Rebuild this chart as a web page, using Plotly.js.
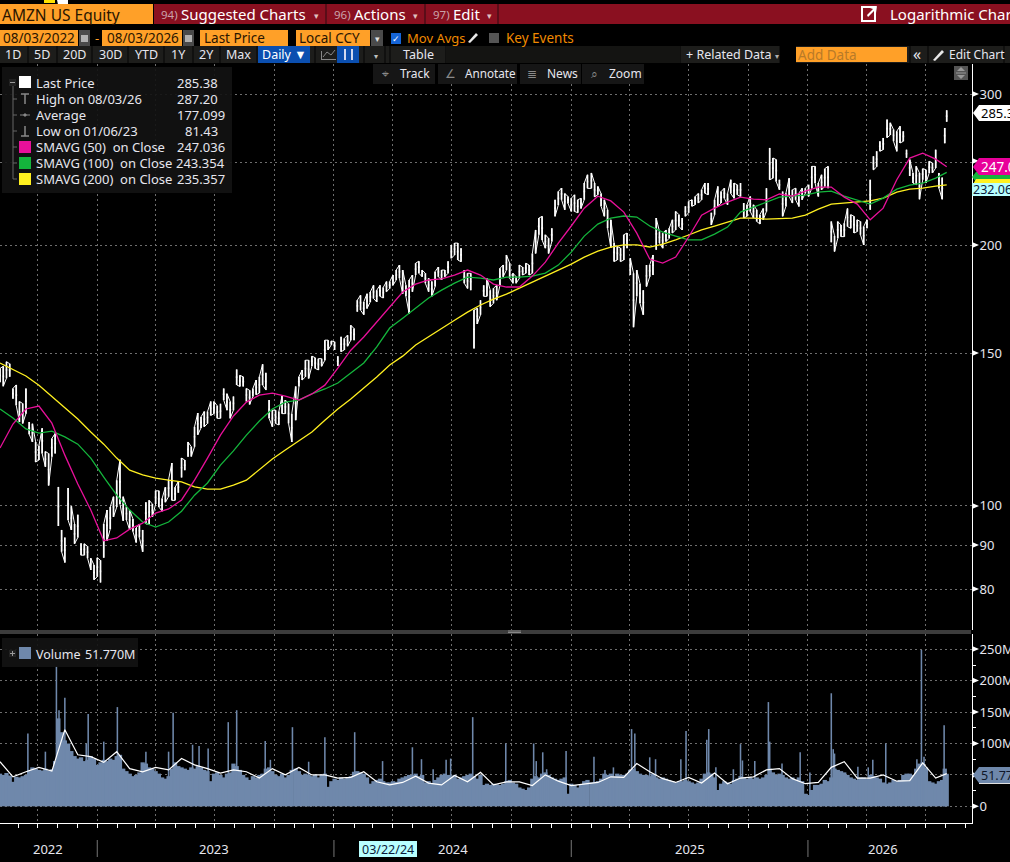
<!DOCTYPE html>
<html><head><meta charset="utf-8">
<script src="https://cdn.plot.ly/plotly-3.0.1.min.js"></script>
<style>html,body{margin:0;padding:0;background:#000;overflow:hidden}#chart{width:1010px;height:862px}</style>
</head><body><div id="chart"></div>
<script>
// ---------- data ----------
const priceHigh = [
144.2,145,146.8,146,136.7,138,132,131.3,136.7,125,
124.4,118.5,117.3,122.9,115.5,114.9,119.6,121.2,105.1,93.7,
91.8,104.8,99.8,95.2,97.6,90.4,90.3,89.7,86.9,85.3,
87,86.4,95.2,98.8,99.6,102.4,107,113,102.4,99.6,
98.8,96.5,94.2,95.2,93.7,100.9,101.4,100.4,104,104,
101.9,105,107.2,112,105,106.6,113.5,112.9,118.5,117,
123.4,128,126.7,128.5,128.5,132,132,130.5,131.2,136.7,
134.8,132,133.8,143.8,141.6,141,136.7,136,136.7,139.8,
141,145.8,142.5,132.5,129,129,128.5,134,132.5,131.2,
127.8,137.4,141,143.6,147.4,147.4,149,148.4,148,148,
155.5,155.5,155.2,154.8,149,156.9,156.2,157.6,161.8,160.4,
173,175.3,172.2,176,176.8,180,177.7,180,179,181.8,
181.8,185,187.5,190,187.5,180,182.6,185,191,192,
187.5,185.9,183.4,181.8,186.7,189,187.5,187.5,192,200.5,
201.5,201.5,198.8,187.5,185.9,185.9,168.5,169.3,173,180,
183.4,177.7,178.6,180,188.4,190,195.2,191,185.9,184.2,
190,189,191,190,196,208.7,215.4,216.4,206,204.1,
209.6,226.2,231.2,233.4,230,228.2,227.1,229.2,226.2,227.1,
236.5,241.8,243,236.5,234.4,230,226.2,220.2,214.4,201.5,
199.7,198.8,206,207,193.5,185.9,187.5,180.8,177.7,190,
190,195.2,215.4,207.8,206.9,208.7,209.6,214.4,219.3,217.4,
215.4,222.3,225.2,226.2,228.2,230,232.3,236.5,236.5,218.5,
226.2,234.4,231.2,233.3,230,238.6,236.5,235.4,236.5,224.2,
223.2,228.2,223.2,220.2,217.4,221,233.3,259.8,252.9,251.8,
238.6,231.2,230.2,239.6,232.3,233.3,230.2,233.3,233.3,235.4,
247.3,247.3,236.5,241.8,245.8,247.3,213.4,205.5,213.4,211.5,
212.5,221,217.4,216.4,214.4,213.4,210.6,214.4,238.6,254,
257.4,264.4,266.8,280.2,277.8,272.8,271.6,275.3,271.6,258.6,
251.8,243,247.3,243,245.8,245.1,250.7,249.6,258.6,243,
240,274,287.2];
const priceLow = [
139,137.5,140.5,141,133,130.7,125,124.5,127.8,121,
118.5,112.3,112.9,114.9,110.9,105.5,113.9,114.9,94.7,88.4,
85.9,96.2,93.7,90.3,91.8,87.6,87.6,86.9,84.2,82,
82.7,81.43,87,91,93.9,97,99.6,100.4,96,96.2,
93.7,93.3,90.6,91.8,88.4,95.2,95.2,97,100.4,99.6,
98.5,100.9,102.4,101.4,101.4,103.5,107.8,109.9,113.9,114,
117,120.8,123,123.4,124.5,127.2,127.8,126.2,126.2,132.5,
129,126.2,129,138,137.4,137.4,132,131,133.8,134.4,
135,138,136.1,126.2,123.4,124.5,124,127.8,127.8,124.5,
118.5,125.6,137.4,139.8,141,140.4,145.1,144.2,143.6,145,
147.4,151.5,153.6,151.5,145.1,150.8,151.5,153,155.5,155.5,
167.8,168.5,166.4,169.2,172.2,173.8,172.2,174.8,174,177,
178.5,180,182.6,183.4,176,174.8,166.8,177,185,185.9,
184.2,181,177,174.8,179.4,184.2,182.6,184.2,185.9,193.5,
195.2,192.6,191.7,181,178.5,177.7,152.1,162.4,166.4,174.8,
174.8,170,171.6,173,180,184.2,187.5,183.4,181,181,
183.4,185,185.9,185,185.9,196,206,203.2,198.8,196,
202.3,216.4,223,226.2,220.2,224,219.3,219.3,218.5,221,
226.2,233.2,233.2,228,229.2,222.3,216.4,209.6,199,191.8,
192.6,191.8,192.6,198.8,185,161,174.8,171.6,166.4,179.4,
184.2,185,197.9,201.5,198.8,202.3,204.1,207,208.7,210.6,
208.7,216.4,218.5,222.3,223.2,224.2,226.2,230.2,229.2,211.5,
217.4,222.3,224.2,227.1,223.2,230,227.1,229.2,228.2,215.4,
216.4,219.3,215.4,213.5,212,214.4,219.3,238.6,239.6,237.5,
232.3,216.4,222.2,228.2,224.2,226.2,222.2,226.2,230.2,228.2,
233.3,236.5,228.2,232.3,234.4,233.3,201.9,197,204.1,205,
205,210.6,209.6,207,207.8,206,200.5,209.6,220.2,245,
247,257.5,258.6,267,268.9,264.4,257.4,263.2,264.4,253,
241,236.5,235.4,226.5,238.6,236.5,243,243,246.2,233.3,
226.5,263,278.6];
const sma50 = [
116.6,124.3,129.4,130.4,124.6,114.4,105.9,98.8,91,91.7,
93.9,95.4,98,99.1,101.5,107,113.5,120.7,127,131.8,
134.3,135,133.9,132.5,134.7,137.9,144.3,151.4,156.8,163.2,
170.3,176.8,180.6,182.6,183.1,185,187.5,185,180.6,179.2,
179.2,184.5,191.5,201.5,210.9,221.2,228.4,225.5,218.9,206.9,
193.1,191,194.1,204.8,217.1,221.2,224.8,227.8,226.6,226.2,
229.7,228.4,231.5,234,234,227.8,223.6,214.4,221.2,238.6,
252.8,256.2,252.1,247.036];
const sma100 = [
129.4,126.3,122.7,121.3,122,120.1,117.8,113.5,107.9,102.8,
98.8,95.7,94.4,95.7,98.5,102.8,106.2,111.4,115.7,120.7,
125.3,129.4,131.8,132.5,134.7,136.5,138.7,142.4,146.3,152.7,
160.6,164.9,169.4,174,177.7,181.1,184,183.5,182.6,184,
184,184.5,186,190,196.7,205.3,212,215.4,216.6,216,
210.9,207.5,205.3,203.2,203.2,206.4,210.3,218.9,221.8,224.8,
227.8,228.4,229,230.9,231.5,228.4,226.2,223.6,227.2,232.7,
235.2,236.5,239.7,243.354];
const sma200 = [
146.3,143.9,141.3,137.9,133.9,129.7,126,121.7,117.8,113.5,
109.9,108.5,107.6,107,106.5,105.1,104.5,104.5,105.6,107,
110.2,113.2,116,118.8,121.7,125.6,129.4,132.9,136.8,140.9,
145.5,149,153.5,156.8,160.2,164,167.6,170.8,173.5,175.8,
178.7,181.6,184.5,187.5,190.5,194.1,197.2,199.4,200.5,200.5,
199.4,201,203.2,205.9,208.7,210.9,213.1,215.4,215.4,214.8,
215.1,215.4,217.1,220.6,223.6,224.2,224.8,225.5,227.2,230.9,
232.7,233.3,234.6,235.357];
const volumeM = [
52,50,53,49,39,47,46,48,50,58,
62,60,58,57,60,57,59,72,140,118,
105,100,88,80,76,78,72,74,80,76,
66,70,74,72,76,74,80,82,60,56,
52,48,50,54,70,68,62,60,56,52,
46,44,48,60,70,64,62,60,58,62,
60,64,62,58,56,40,52,54,50,46,
52,54,68,64,58,50,46,42,48,46,
50,52,60,62,56,50,48,52,46,50,
58,60,56,50,52,50,48,50,46,50,
52,31,40,44,42,46,44,46,48,55,
56,54,52,46,36,40,42,44,40,38,
38,40,39,44,46,48,50,50,52,48,
50,38,40,37,42,46,50,52,50,48,
50,44,46,48,50,52,48,44,50,34,
36,34,36,35,34,36,
40,42,38,36,30,28,26,30,44,48,
46,52,54,50,46,44,42,44,46,20,
36,34,30,34,40,42,38,38,40,44,
52,50,52,48,52,50,50,52,58,60,
56,52,50,50,48,52,46,44,46,44,
42,40,38,40,40,42,40,38,36,38,
44,52,54,52,46,26,36,40,38,36,
42,44,48,46,44,46,44,46,44,46,
50,60,54,50,52,50,46,44,46,42,
46,40,20,18,26,34,34,36,42,40,
46,60,58,56,54,50,46,44,42,46,
46,44,50,48,46,44,38,36,38,42,
40,42,50,52,52,50,60,68,70,62,
40,38,36,40,42,60,51.77];
const volumeAvgM = [
71,47,55,62,56,122,82,79,70,87,
60,55,62,58,76,66,60,53,58,55,
45,60,50,62,50,50,45,46,55,39,
34,38,48,37,34,49,39,54,34,
39,39,33,50,40,33,36,38,47,46,
68,55,44,38,46,37,53,36,45,47,
58,60,44,36,38,62,71,45,45,50,
40,41,69,45,52];
const spikeDates = [
"2022-09-16","2022-10-13","2022-10-30","2022-11-03","2022-11-12","2022-12-15","2022-12-18","2023-01-11","2023-02-01","2023-03-17",
"2023-04-21","2023-04-28","2023-05-28","2023-06-07","2023-06-21","2023-07-22","2023-08-04","2023-09-17","2023-09-25","2023-10-29",
"2023-11-23","2023-12-18","2024-02-02","2024-03-16","2024-05-01","2024-05-15","2024-06-02","2024-06-22","2024-06-29","2024-08-02",
"2024-09-22","2024-11-04","2024-11-08","2024-11-18","2024-11-24","2024-12-24","2025-02-05","2025-02-22","2025-03-07","2025-04-04",
"2025-04-09","2025-05-02","2025-05-11","2025-06-19","2025-06-27","2025-07-29","2025-08-01","2025-08-12","2025-09-08","2025-09-19",
"2025-09-22","2025-10-11","2025-11-01","2025-11-03","2025-11-22","2025-12-20","2026-01-04","2026-02-06","2026-02-09","2026-02-11",
"2026-03-19","2026-04-04","2026-04-11","2026-05-01","2026-06-18","2026-06-25","2026-06-29","2026-07-03","2026-07-30"];
const spikeM = [
116,87,223,153,173,100,147,103,158,87,
87,149,98,96,92,134,153,104,74,126,
71,110,118,72,94,75,59,74,76,142,
100,100,72,86,59,88,79,58,62,123,
116,78,75,75,120,106,123,62,59,99,
73,72,166,103,68,86,54,180,91,84,
63,62,74,100,75,249,79,55,129];
const priceTicks = [80,90,100,150,200,250,300];
const priceTickText = ["80","90","100","150","200","","300"];
const volumeTicks = [0,50,100,150,200,250];
const volumeTickText = ["0","","100M","150M","200M","250M"];
const yearLabels = ["2022","2023","2024","2025","2026"];
const yearLabelDates = ["2022-10-17","2023-06-30","2024-07-02","2025-07-03","2026-04-27"];
const yearStarts = ["2023-01-01","2024-01-01","2025-01-01","2026-01-01"];
const legendNames = ["Last Price","High on 08/03/26","Average","Low on 01/06/23","SMAVG (50)  on Close","SMAVG (100)  on Close","SMAVG (200)  on Close"];
const legendValues = ["285.38","287.20","177.099","81.43","247.036","243.354","235.357"];
const periodButtons = ["1D","5D","20D","30D","YTD","1Y","2Y","Max"];

// ---------- helpers ----------
const FONT = '"Noto Sans", sans-serif';
const ORANGE='#FFA028', CRIMSON='#8A1020', CREAM='#E6E6EE', BAR='#6F88AB', MAG='#E8109A', GRN='#14B53C', YEL='#FFF020', CYAN='#B8FFFF';
const W=972, TOP=64, BOT=823, SPLIT=630, VOLTOP=634;
const X=p=>p/W, Y=p=>(BOT-p)/(BOT-TOP);
const base=new Date('2022-08-04T00:00:00Z').getTime();
const tradeDates=[];
for(let i=0;i<291;i++) tradeDates.push(new Date(base+i*5.011*864e5).toISOString().slice(0,10));
tradeDates.push('2026-07-31','2026-08-03');
const avgDates=tradeDates.filter((d,i)=>i%4===0);
const priceMid=priceHigh.map((h,i)=>Math.sqrt(h*priceLow[i]));
// jagged connector between neighbouring high/low bars; left open across price gaps
const linkX=[], linkY=[];
tradeDates.forEach((d,i)=>{
  linkX.push(d,d); linkY.push(i%2?priceHigh[i]:priceLow[i], i%2?priceLow[i]:priceHigh[i]);
  const n=i+1;
  if(n<tradeDates.length && (priceLow[n]>priceHigh[i] || priceHigh[n]<priceLow[i])){linkX.push(d); linkY.push(null);}
});

const shapes=[], annos=[];
const rect=(x0,y0,x1,y1,fill)=>shapes.push({type:'rect',xref:'paper',yref:'paper',x0:X(x0),x1:X(x1),y0:Y(y1),y1:Y(y0),fillcolor:fill,line:{width:0},layer:'above'});
const poly=(pts,fill,line)=>shapes.push({type:'path',xref:'paper',yref:'paper',path:'M'+pts.map(p=>X(p[0])+','+Y(p[1])).join('L')+'Z',fillcolor:fill,line:line?{color:line,width:1}:{width:0},layer:'above'});
const seg=(x0,y0,x1,y1,color,w)=>shapes.push({type:'line',xref:'paper',yref:'paper',x0:X(x0),x1:X(x1),y0:Y(y0),y1:Y(y1),line:{color:color,width:w||1},layer:'above'});
const txt=(x,y,t,color,size,anchor)=>annos.push({xref:'paper',yref:'paper',x:X(x),y:Y(y),text:t,showarrow:false,xanchor:anchor||'left',yanchor:'middle',borderpad:0,font:{family:FONT,size:size||13,color:color||CREAM}});

// ---------- title strip ----------
rect(44,0,55,3,'#FFE000'); poly([[57,0],[68,0],[68,9],[63,12],[59,9]],'#FFFFFF');
rect(0,4,153,24,ORANGE); txt(1,15,'AMZN US Equity','#2a1500',15.5);
rect(154,4,1010,24,CRIMSON);
[326,425,498].forEach(x=>seg(x,4,x,24,'#2a0a10',1));
txt(160,14,'94)','#C9A2AA',11.5); txt(180,14,'Suggested Charts','#FFFFFF',15); txt(316,15,'▾','#E0C0C0',9,'center');
txt(333,14,'96)','#C9A2AA',11.5); txt(353,14,'Actions','#FFFFFF',15); txt(415,15,'▾','#E0C0C0',9,'center');
txt(432,14,'97)','#C9A2AA',11.5); txt(452,14,'Edit','#FFFFFF',15); txt(489,15,'▾','#E0C0C0',9,'center');
shapes.push({type:'rect',xref:'paper',yref:'paper',x0:X(862),x1:X(875),y0:Y(21),y1:Y(7),fillcolor:'rgba(0,0,0,0)',line:{color:'#FFFFFF',width:2},layer:'above'});
poly([[867,15],[873,9],[870,8],[877,6],[876,13],[874,11],[868,17]],'#FFFFFF');
txt(889,14,'Logarithmic Chart','#FFFFFF',15);

// ---------- date row ----------
rect(0,30,78,46,ORANGE); txt(2,38,'08/03/2022','#2a1500',13.5);
rect(79,30,90,46,'#4a4a4a'); rect(81,35,88,42,'#B0B0B0');
txt(97,38,'-',ORANGE,13,'center');
rect(102,30,182,46,ORANGE); txt(106,38,'08/03/2026','#2a1500',13.5);
rect(183,30,194,46,'#4a4a4a'); rect(185,35,192,42,'#B0B0B0');
rect(200,30,288,46,ORANGE); txt(203,38,'Last Price','#2a1500',13.5);
rect(296,30,370,46,ORANGE); txt(298,38,'Local CCY','#2a1500',13.5);
rect(371,30,383,46,'#4a4a4a'); txt(377,39,'▾','#E0E0E0',9,'center');
rect(391,33,401,44,'#1565D8'); txt(396,38,'✓','#FFFFFF',9,'center');
txt(406,38,'Mov Avgs','#F08A00',13);
poly([[468,42],[470,43],[478,35],[476,33]],'#E8E8E8');
rect(489,33,499,43,'#555555');
txt(505,38,'Key Events','#F08A00',13.5);

// ---------- toolbar ----------
rect(0,46,1010,63,'#1D1D1B');
[28,57,92,128,164,193,220,257,315,364,385,390,446,680,780,910,928,1004].forEach(x=>seg(x,46,x,63,'#050505',1));
rect(780,46,796,63,'#000000'); rect(446,46,680,63,'#141412');
[13,42,74,110,146,178,206,238].forEach((x,i)=>txt(x,54.5,periodButtons[i],CREAM,12.5,'center'));
rect(258,46,310,63,'#0B4FB0'); txt(284,54.5,'Daily ▼','#FFFFFF',12.5,'center');
poly([[321,60],[336,60],[336,59],[322,59],[322,51],[321,51]],'#888888');
seg(323,57,327,52,'#888888'); seg(327,52,331,55,'#888888'); seg(331,55,335,50,'#888888');
rect(337,46,359,63,'#0B4FB0'); seg(345,49,345,60,'#D0D8F0',2); seg(352,49,352,60,'#D0D8F0',2);
txt(376,55,'▾','#C0C0C0',8,'center');
txt(418,54.5,'Table',CREAM,12.5,'center');
txt(685,54.5,'+ Related Data',CREAM,12.5); txt(777,55,'▾','#B0B0B0',8,'center');
rect(796,47,907,62,ORANGE); txt(797,55,'Add Data','#B87A28',13.5);
txt(917,54,'«',CREAM,16,'center');
poly([[933,60],[935,61],[944,52],[942,50]],'#E8E8E8');
txt(948,54.5,'Edit Chart',CREAM,12);

// ---------- floating tool cards ----------
[[373,435],[438,517],[520,581],[582,644]].forEach(c=>rect(c[0],64,c[1],84,'#161616'));
const cardGlyph=(x,g)=>txt(x,73.5,g,'#8A8A8A',12,'center');
cardGlyph(385,'⌖'); txt(399,73.5,'Track',CREAM,12);
cardGlyph(450,'∠'); txt(464,73.5,'Annotate',CREAM,11.7);
cardGlyph(532,'≣'); txt(546,73.5,'News',CREAM,12);
cardGlyph(594,'⌕'); txt(608,73.5,'Zoom',CREAM,12);
rect(954,66,968,80,'#555555'); seg(956,73,966,73,'#999999');
poly([[961,67],[965,71],[957,71]],'#999999'); poly([[961,79],[965,75],[957,75]],'#999999');

// ---------- legend box ----------
rect(2,67,232,193,'rgba(18,18,18,0.92)');
const rowY=[83,99,115,131,147,163,179];
seg(13,83,13,179,'#666666'); [99,115,131,147,163,179].forEach(y=>seg(13,y,17,y,'#666666'));
rect(9,79,16,86,'#222222'); seg(10,82.5,15,82.5,'#999999');
rect(19,76,31,88,'#FFFFFF'); rect(19,141,31,153,MAG); rect(19,157,31,169,GRN); rect(19,173,31,185,YEL);
seg(25,94,25,104,'#888888',1.5); seg(21,94,29,94,'#888888',1.5);
seg(20,115,30,115,'#888888',1); poly([[23,115],[25,113],[27,115],[25,117]],'#888888');
seg(25,126,25,136,'#888888',1.5); seg(21,136,29,136,'#888888',1.5);
legendNames.forEach((n,i)=>txt(35,rowY[i],n.replace(/  /g,'&nbsp;&nbsp;'),CREAM,13));
const valueRight=[219,219,226,219,226,226,226];
legendValues.forEach((v,i)=>txt(valueRight[i],rowY[i],v,CREAM,13,'right'));

// ---------- splitter and volume legend ----------
rect(0,630,971,634,'#3C3C3C'); [631,632.5].forEach(y=>seg(508,y,521,y,'#9A9A9A',0.8));
rect(2,638,138,667,'rgba(18,18,18,0.92)');
rect(9,650,16,657,'#222222'); seg(10,653.5,15,653.5,'#999999'); seg(12.5,651,12.5,656,'#999999');
rect(19,647,31,659,BAR); txt(35,654,'Volume',CREAM,12.5); txt(84,654,'51.770M',CREAM,12.5);

// ---------- axis arrows ----------
const arrow=y=>poly([[972,y-3],[979,y],[972,y+3]],'#FFFFFF');
[94,161,245,353,506,545,589,649,680.5,712,743.5,775,806.3].forEach(arrow);

// ---------- right-hand value flags ----------
poly([[972,177],[976,172],[1010,172],[1010,182],[976,182]],GRN);
poly([[972,186],[976,179],[1010,179],[1010,184],[976,184]],YEL);
poly([[973,113],[979,105],[1010,105],[1010,121],[979,121]],'#FFFFFF'); txt(980,113,'285.38','#000000',13);
poly([[973,167],[979,158],[1010,158],[1010,175],[979,175]],'#E8009A'); txt(980,167,'247.036','#FFFFFF',13.5);
rect(972,183,1010,196,CYAN); txt(972,189.5,'232.06','#0A1A3A',12.5);
poly([[973,775],[979,767],[1010,767],[1010,783],[979,783]],BAR); seg(979,783.5,1010,783.5,'#E0E0E0',1); txt(980,775,'51.770M','#10182A',12.5);
annos.push({xref:'paper',yref:'paper',x:X(1001),y:Y(348),text:'Lo',showarrow:false,textangle:-90,xanchor:'left',yanchor:'middle',font:{family:FONT,size:26,color:'#333333'}});

// ---------- bottom date strip ----------
yearStarts.forEach(d=>shapes.push({type:'line',xref:'x',yref:'paper',x0:d,x1:d,y0:Y(840),y1:Y(857),line:{color:'#777777',width:1},layer:'above'}));
yearLabels.forEach((l,i)=>annos.push({xref:'x',yref:'paper',x:yearLabelDates[i],y:Y(849),text:l,showarrow:false,xanchor:'center',yanchor:'middle',font:{family:FONT,size:13,color:CREAM}}));
rect(359,841,417,857,CYAN); txt(388,849,'03/22/24','#0A1A3A',12.5,'center');

// ---------- traces ----------
const traces=[
 {type:'ohlc',name:'Last Price',x:tradeDates,open:priceMid,high:priceHigh,low:priceLow,close:priceMid,tickwidth:0.5,
  increasing:{line:{color:'#FFFFFF',width:1.7}},decreasing:{line:{color:'#FFFFFF',width:1.7}},xaxis:'x',yaxis:'y',hoverinfo:'skip'},
 {type:'scatter',mode:'lines',name:'Last Price links',x:linkX,y:linkY,connectgaps:false,line:{color:'#FFFFFF',width:1},xaxis:'x',yaxis:'y',hoverinfo:'skip'},
 {type:'scatter',mode:'lines',name:'SMAVG (200)',x:avgDates,y:sma200,line:{color:YEL,width:1.3},xaxis:'x',yaxis:'y'},
 {type:'scatter',mode:'lines',name:'SMAVG (100)',x:avgDates,y:sma100,line:{color:GRN,width:1.3},xaxis:'x',yaxis:'y'},
 {type:'scatter',mode:'lines',name:'SMAVG (50)',x:avgDates,y:sma50,line:{color:MAG,width:1.3},xaxis:'x',yaxis:'y'},
 {type:'bar',name:'Volume',x:tradeDates,y:volumeM,marker:{color:BAR,line:{width:0}},width:6.6*864e5,xaxis:'x',yaxis:'y2'},
 {type:'bar',name:'Volume peaks',x:spikeDates,y:spikeM,marker:{color:BAR,line:{width:0}},width:2.4*864e5,xaxis:'x',yaxis:'y2'},
 {type:'scatter',mode:'lines',name:'Volume average',x:avgDates,y:volumeAvgM,line:{color:'#FFFFFF',width:1.2},xaxis:'x',yaxis:'y2'}
];
const grid={color:'#6E6E6E',dash:'2px,3px'};
const layout={
 width:1010,height:862,paper_bgcolor:'#000',plot_bgcolor:'#000',showlegend:false,dragmode:false,barmode:'overlay',
 margin:{l:0,r:38,t:TOP,b:862-BOT,pad:0},font:{family:FONT,color:CREAM,size:13},
 xaxis:{type:'date',range:['2022-08-04','2026-09-11'],anchor:'y2',showline:true,linecolor:'#FFFFFF',linewidth:1,
  showgrid:true,gridcolor:grid.color,griddash:grid.dash,gridwidth:1,dtick:'M3',tick0:'2023-01-01',showticklabels:false,
  ticks:'outside',ticklen:4,tickcolor:'#FFFFFF',minor:{dtick:'M1',tick0:'2023-01-01',ticks:'outside',ticklen:4,tickcolor:'#FFFFFF',showgrid:false},rangeslider:{visible:false},zeroline:false},
 yaxis:{type:'log',domain:[Y(SPLIT),1],range:[1.8557,2.5119],side:'right',anchor:'x',showline:true,linecolor:'#FFFFFF',linewidth:1,
  tickmode:'array',tickvals:priceTicks,ticktext:priceTickText,ticks:'outside',ticklen:4,tickcolor:'rgba(0,0,0,0)',tickfont:{family:FONT,size:13,color:CREAM},
  showgrid:true,gridcolor:grid.color,griddash:grid.dash,zeroline:false},
 yaxis2:{domain:[0,Y(VOLTOP)],range:[-26.6,274.4],side:'right',anchor:'x',showline:true,linecolor:'#FFFFFF',linewidth:1,
  tickmode:'array',tickvals:volumeTicks,ticktext:volumeTickText,ticks:'outside',ticklen:4,tickcolor:'rgba(0,0,0,0)',tickfont:{family:FONT,size:13,color:CREAM},
  showgrid:true,gridcolor:grid.color,griddash:grid.dash,zeroline:false,
  minor:{tickvals:[25,75,125,175,225],ticks:'outside',ticklen:3,tickcolor:'#FFFFFF',showgrid:false}},
 shapes:shapes,annotations:annos
};
Plotly.newPlot('chart',traces,layout,{staticPlot:true,displayModeBar:false});
</script></body></html>
